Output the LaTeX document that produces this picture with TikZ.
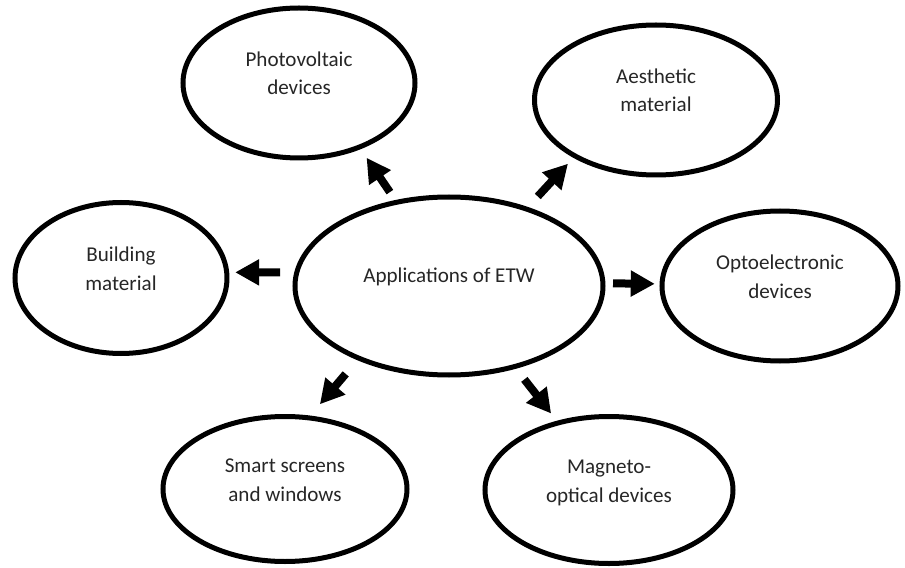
\documentclass[tikz,border=0pt]{standalone}
\usepackage{fontspec}
\setmainfont{Carlito}
\usepackage{tikz}
\usetikzlibrary{positioning,shapes.geometric,arrows.meta}

\begin{document}
\begin{tikzpicture}[on grid,bubble/.style={draw, ellipse, line width=0.125cm, align=center, text=black!85, font=\fontsize{15pt}{20.6pt}\selectfont, text height=1.2cm, text depth=0.6cm},fat/.style={line width=0.2cm, -{Triangle[length=0.6cm, width=0.62cm]}}]
  \useasboundingbox (-11.225,-7.05) rectangle (11.4,7.15);
  \node[bubble, minimum width=7.7cm, minimum height=4.45cm, text height=0.5cm, text depth=0.7cm] (app) {Applications of ETW};
  \node[bubble, minimum width=5.8cm, minimum height=3.75cm, above left=5.075cm and 3.75cm of app] (pv) {Photovoltaic\\devices};
  \node[bubble, minimum width=6.075cm, minimum height=3.75cm, above right=4.65cm and 5.175cm of app] (aes) {Aesthetic\\material};
  \node[bubble, minimum width=5.3cm, minimum height=3.775cm, above left=0.2cm and 8.2cm of app] (bld) {Building\\material};
  \node[bubble, minimum width=5.9cm, minimum height=3.75cm, right=8.275cm of app] (opt) {Optoelectronic\\devices};
  \node[bubble, minimum width=6.1cm, minimum height=3.625cm, below left=5.075cm and 4.1cm of app] (scr) {Smart screens\\and windows};
  \node[bubble, minimum width=6.2cm, minimum height=3.675cm, below right=5.1cm and 4cm of app] (mag) {Magneto-\\optical devices};
  \draw[fat, shorten <=0.24cm, shorten >=0.26cm] (app.122) -- (pv.-47);
  \draw[fat, shorten <=0.36cm, shorten >=0.2cm] (app.45) -- (aes.-145);
  \draw[fat, shorten <=0.35cm, shorten >=0.15cm] (app.175) -- (bld.3);
  \draw[fat, shorten <=0.19cm, shorten >=0.12cm] (app.1) -- (opt.179);
  \draw[fat, shorten <=0.45cm, shorten >=0.37cm] (app.-141) -- (scr.71);
  \draw[fat, shorten <=0.34cm, shorten >=0.23cm] (app.-51) -- (mag.127);
\end{tikzpicture}
\end{document}
